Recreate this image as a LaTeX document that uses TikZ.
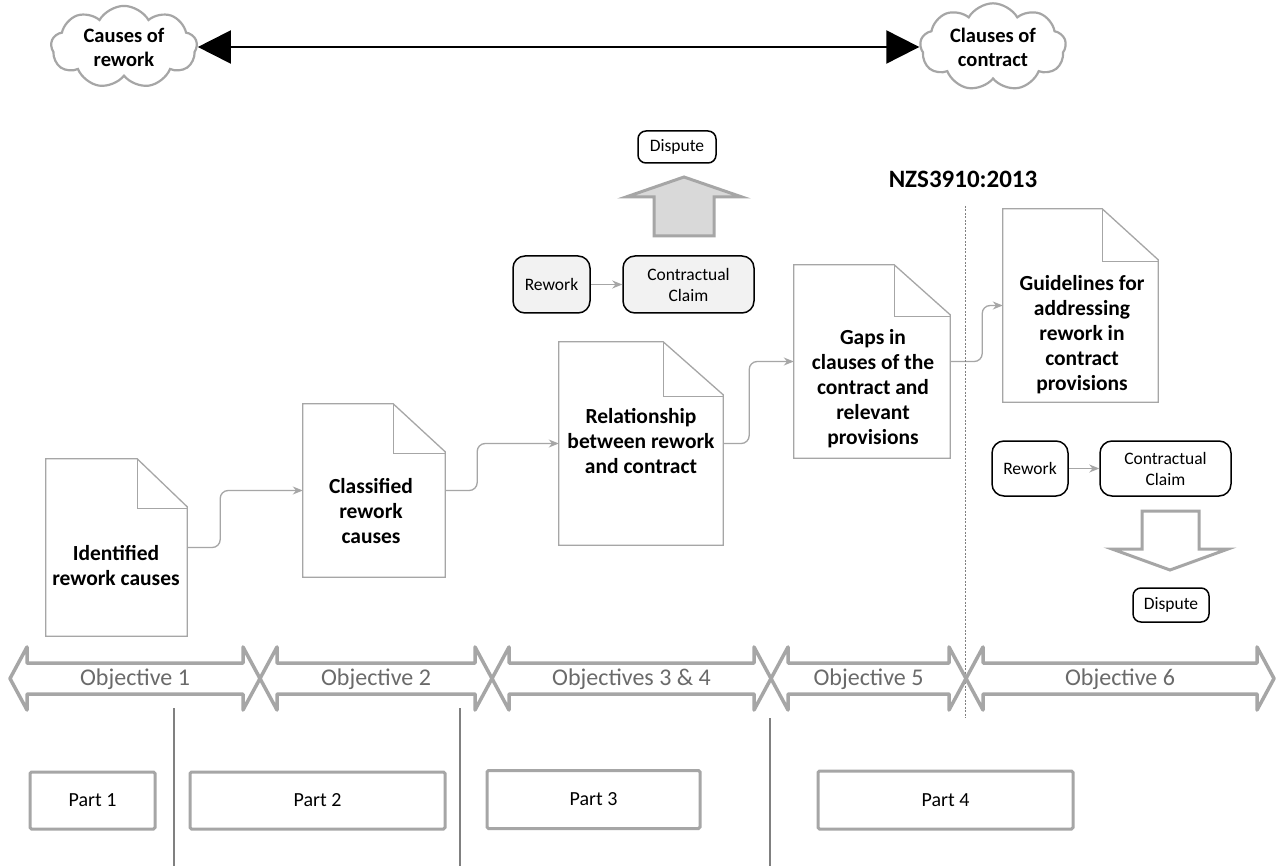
\documentclass[tikz,border=0pt]{standalone}
\usepackage{fontspec}
\setmainfont{Carlito}
\usetikzlibrary{shapes.symbols,arrows.meta,calc}
\definecolor{lg}{HTML}{A6A6A6}
\definecolor{tg}{HTML}{6A6A6A}
\definecolor{fillg}{HTML}{F2F2F2}
\definecolor{arrfill}{HTML}{D9D9D9}
\definecolor{sepg}{HTML}{808080}
\newcommand{\fsz}[2]{\fontsize{#1}{#2}\selectfont}
\newcommand{\docdraw}[3]{%
  \draw[docline] (#1.south west) -- (#1.north west) -- ([xshift=-#2pt]#1.north east) -- ([yshift=-#3pt]#1.north east) -- (#1.south east) -- cycle;
  \draw[docline] ([xshift=-#2pt]#1.north east) -- ([xshift=-#2pt,yshift=-#3pt-2pt]#1.north east) -- ([yshift=-#3pt-2pt]#1.north east);
}
\newcommand{\objarrow}[4]{%
  \draw[objline] (#2,678.5) -- (#2+17,647) -- (#2+17,663) -- (#3-17,663) -- (#3-17,647) -- (#3,678.5) -- (#3-17,710) -- (#3-17,694) -- (#2+17,694) -- (#2+17,710) -- cycle;
  \node[objtext] (#1) at ({(#2+#3)/2},679) {#4};
}
\begin{document}
\begin{tikzpicture}[x=1pt,y=-1pt,
  cloudbox/.style={cloud, cloud puffs=9, cloud puff arc=120, aspect=1.8, draw=lg, line width=2.2, fill=white, inner sep=0, minimum width=146, minimum height=82, align=center, font=\fsz{20.5}{24}\bfseries},
  docbox/.style={draw=none, inner sep=0},
  doctext/.style={align=center, font=\fsz{21.5}{25}\bfseries, inner sep=0},
  docline/.style={draw=lg, line width=1.3, line join=miter},
  conn/.style={draw=lg, line width=1.3, rounded corners=8, -{Stealth[length=10pt,width=8pt]}},
  rbox/.style={draw=black, line width=1.5, rounded corners=12, align=center, font=\fsz{17.5}{21}, inner sep=0},
  smallarr/.style={draw=lg, line width=1.3, -{Stealth[length=10pt,width=8pt]}},
  objline/.style={draw=lg, line width=3.5, line join=round, fill=white},
  objtext/.style={text=tg, font=\fsz{24}{28}, inner sep=0},
  partbox/.style={draw=lg, line width=3, rounded corners=1.5, font=\fsz{20}{24}, inner sep=0},
  sepline/.style={draw=sepg, line width=1.2},
]
\fill[white] (0,0) rectangle (1276,866);
\useasboundingbox (0,0) rectangle (1276,866);

% clouds and top arrow
\node[cloudbox] (cl1) at (124,47) {Causes of\\rework};
\node[cloudbox] (cl2) at (993,47) {Clauses of\\contract};
\draw[line width=2, {Triangle[length=33pt,width=33pt]}-{Triangle[length=33pt,width=33pt]}] (cl1.east) -- (cl2.west);

% documents
\node[docbox, minimum width=141, minimum height=177] (d1) at (116.5,547.5) {};
\node[docbox, minimum width=142, minimum height=173] (d2) at (374,490.5) {};
\node[docbox, minimum width=164, minimum height=203] (d3) at (641,443.5) {};
\node[docbox, minimum width=156, minimum height=193] (d4) at (872,361.5) {};
\node[docbox, minimum width=155, minimum height=193] (d5) at (1080.5,305.5) {};
\docdraw{d1}{50}{48}
\docdraw{d2}{52}{48}
\docdraw{d3}{60}{53}
\docdraw{d4}{56}{50}
\docdraw{d5}{56}{51}
\node[doctext] (t1) at (116,566) {Identified\\rework causes};
\node[doctext] (t2) at (371,511) {Classified\\rework\\causes};
\node[doctext] (t3) at (641,441) {Relationship\\between rework\\and contract};
\node[doctext] (t4) at (873,389) {Gaps in\\clauses of the\\contract and\\relevant\\provisions};
\node[doctext] (t5) at (1082,335) {Guidelines for\\addressing\\rework in\\contract\\provisions};

\draw[conn] (d1.east) -- ++(33,0) |- (d2.west);
\draw[conn] (d2.east) -- ++(32,0) |- (d3.west);
\draw[conn] (d3.east) -- ++(26,0) |- (d4.west);
\draw[conn] (d4.east) -- ++(32,0) |- (d5.west);

% NZS label and dotted separator
\node[font=\fsz{25}{30}\bfseries, inner sep=0] (nzs) at (963,179) {NZS3910:2013};
\draw[draw=sepg, line width=1, dash pattern=on 2pt off 1.5pt] (965,206) -- (965,718);

% upper claim group
\node[rbox, fill=fillg, minimum width=77, minimum height=57] (r1) at (551.5,284.5) {Rework};
\node[rbox, fill=fillg, minimum width=131, minimum height=57] (c1) at (688.5,284.5) {Contractual\\Claim};
\draw[smallarr] (r1) -- (c1);
\draw[draw=lg, line width=3, fill=arrfill, line join=miter] (654,236) -- (654,197) -- (626,197) -- (684,177) -- (742,197) -- (714,197) -- (714,236) -- cycle;
\node[rbox, rounded corners=8, minimum width=78, minimum height=32] (dp1) at (677,147) {Dispute};

% lower claim group
\node[rbox, fill=white, minimum width=76, minimum height=55] (r2) at (1030,468.5) {Rework};
\node[rbox, fill=white, minimum width=131, minimum height=55] (c2) at (1165.5,468.5) {Contractual\\Claim};
\draw[smallarr] (r2) -- (c2);
\draw[draw=lg, line width=3, fill=white, line join=miter] (1142,511) -- (1199,511) -- (1199,549) -- (1228,549) -- (1170,570) -- (1112,549) -- (1142,549) -- cycle;
\node[rbox, rounded corners=8, minimum width=76, minimum height=34] (dp2) at (1171,605) {Dispute};

% objective arrows
\objarrow{o1}{10}{260}{Objective 1}
\objarrow{o2}{260}{492}{Objective 2}
\objarrow{o3}{492}{771}{Objectives 3 \& 4}
\objarrow{o5}{771}{966}{Objective 5}
\objarrow{o6}{966}{1274}{Objective 6}

% separators
\draw[sepline] (174,708) -- (174,866);
\draw[sepline] (460,708) -- (460,866);
\draw[sepline] (770,718) -- (770,866);

% parts
\node[partbox, minimum width=125, minimum height=57] (p1) at (92.5,800.5) {Part 1};
\node[partbox, minimum width=255, minimum height=57] (p2) at (317.5,800.5) {Part 2};
\node[partbox, minimum width=213, minimum height=58] (p3) at (593.5,799.5) {Part 3};
\node[partbox, minimum width=255, minimum height=58] (p4) at (945.5,800) {Part 4};
\end{tikzpicture}
\end{document}
